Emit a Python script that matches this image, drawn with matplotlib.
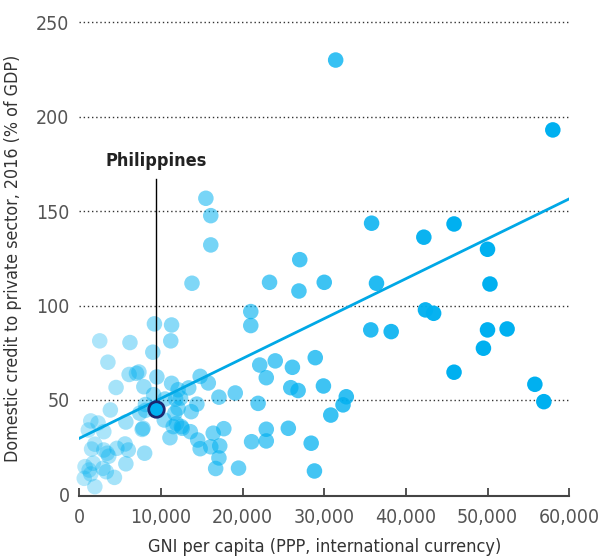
import numpy as np
import matplotlib
matplotlib.use("Agg")
import matplotlib.pyplot as plt

plt.rcParams["font.family"] = ["DejaVu Sans"]
plt.rcParams["font.stretch"] = "condensed"

# GNI per capita (thousands, PPP) and private credit (% of GDP)
gni_high = [31.4, 58.0, 35.8, 45.9, 42.2, 50.0, 27.0, 30.0, 36.4, 50.3, 26.9, 42.4, 43.4,
            35.7, 38.2, 50.0, 52.4, 49.5, 28.9, 45.9, 26.8, 29.9, 32.7, 32.3, 30.8, 55.8, 56.9]
credit_high = [230, 193, 143.6, 143.2, 136.2, 129.8, 124.3, 112.3, 111.8, 111.4, 107.7, 97.7, 95.9,
               87.1, 86.2, 87.1, 87.6, 77.4, 72.4, 64.7, 55.0, 57.4, 51.7, 47.4, 42.0, 58.3, 49.1]

gni_mid = [15.5, 16.1, 16.1, 13.8, 23.3, 21.0, 21.0, 22.1, 24.0, 26.1, 22.9, 25.9, 19.1,
           17.1, 14.8, 15.8, 13.4, 14.4, 13.7, 21.9, 12.4, 12.5, 13.6, 14.5, 14.8, 16.4,
           17.7, 17.2, 16.1, 17.1, 16.7, 19.5, 21.1, 22.9, 22.9, 25.6, 28.4, 28.8]
credit_mid = [156.8, 147.6, 132.1, 111.8, 112.3, 96.8, 89.4, 68.5, 70.7, 67.3, 61.8, 56.5, 53.7,
              51.5, 62.5, 59.0, 56.4, 47.8, 43.8, 48.2, 51.0, 35.9, 33.2, 28.8, 24.2, 32.4,
              34.8, 25.7, 25.2, 19.3, 13.7, 13.9, 27.9, 34.5, 28.3, 35.0, 27.1, 12.4]

gni_low = [9.2, 11.3, 2.5, 6.2, 11.2, 9.0, 3.5, 6.1, 7.3, 4.5, 7.9, 9.5, 11.3, 9.1, 12.1,
           10.5, 8.1, 11.8, 3.8, 8.1, 5.7, 7.7, 10.4, 11.5, 11.9, 11.1, 12.6, 11.7, 12.1,
           1.4, 2.3, 1.1, 3.0, 1.9, 1.5, 3.0, 3.4, 3.6, 4.6, 5.6, 5.7, 8.0, 2.9, 4.3, 0.7,
           1.2, 1.4, 0.6, 1.9, 1.7, 3.3, 7.8, 7.4, 6.0, 7.0]
credit_low = [90.3, 89.7, 81.3, 80.4, 81.3, 75.3, 70.0, 63.5, 64.8, 56.6, 57.0, 62.2, 58.8, 52.8, 55.4,
              50.5, 47.6, 50.5, 44.7, 44.5, 38.3, 34.4, 39.4, 35.9, 37.5, 30.0, 35.0, 43.0, 45.6,
              38.9, 37.8, 34.1, 33.2, 26.6, 24.0, 23.5, 21.8, 20.2, 24.4, 26.7, 16.2, 21.8, 13.8, 9.0, 14.7,
              12.9, 10.8, 8.5, 4.1, 16.5, 12.0, 35.0, 43.0, 23.5, 64.1]

phil_gni = 9.4
phil_credit = 45.1
phil_label = "Philippines"

trend_intercept = 29.7
trend_slope = 2.113  # per 1,000 of GNI

gni = np.array(gni_high + gni_mid + gni_low) * 1000
credit = np.array(credit_high + credit_mid + credit_low)

blue = "#00B0F0"
navy = "#1B2770"

fig = plt.figure(figsize=(6.01, 5.58), dpi=100)
ax = fig.add_axes([0.132, 0.114, 0.815, 0.863])

alphas = np.clip(0.28 + gni / 45000 * 0.72, 0.28, 1.0)
ax.scatter(gni, credit, s=125, color=blue, alpha=alphas, linewidths=0, zorder=3, clip_on=False)

xs = np.array([0, 60000])
ax.plot(xs, trend_intercept + trend_slope * xs / 1000, color="#00A8E6", lw=2, zorder=4)

ax.plot([phil_gni * 1000, phil_gni * 1000], [phil_credit, 167], color="black", lw=1, zorder=5)
ax.scatter([phil_gni * 1000], [phil_credit], s=125, color=blue, edgecolors=navy,
           linewidths=2, zorder=6)
ax.text(phil_gni * 1000, 172, phil_label, ha="center", va="bottom", fontsize=13,
        fontweight="bold", color="#222222")

for v in [50, 100, 150, 200, 250]:
    ax.axhline(v, color="#333333", lw=1, ls=(0, (1, 2)), zorder=1)

ax.set_xlim(0, 60000)
ax.set_ylim(0, 255)
ax.set_xticks(np.arange(0, 60001, 10000))
ax.set_xticklabels([f"{v:,}" for v in range(0, 60001, 10000)])
ax.set_yticks([0, 50, 100, 150, 200, 250])

for s in ["top", "right", "left"]:
    ax.spines[s].set_visible(False)
ax.spines["bottom"].set_color("#444444")
ax.spines["bottom"].set_linewidth(1.5)
ax.spines["bottom"].set_position(("outward", 1))

ax.tick_params(axis="x", direction="in", length=6, width=1.3, color="#444444",
               labelsize=14, labelcolor="#555555", pad=9)
ax.tick_params(axis="y", length=0, labelsize=14, labelcolor="#555555", pad=7)

ax.set_xlabel("GNI per capita (PPP, international currency)", fontsize=13, color="#333333", labelpad=8)
ax.set_ylabel("Domestic credit to private sector, 2016 (% of GDP)", fontsize=12.8, color="#333333")
ax.yaxis.set_label_coords(-0.117, 0.49)

fig.savefig("out.png", dpi=100)
